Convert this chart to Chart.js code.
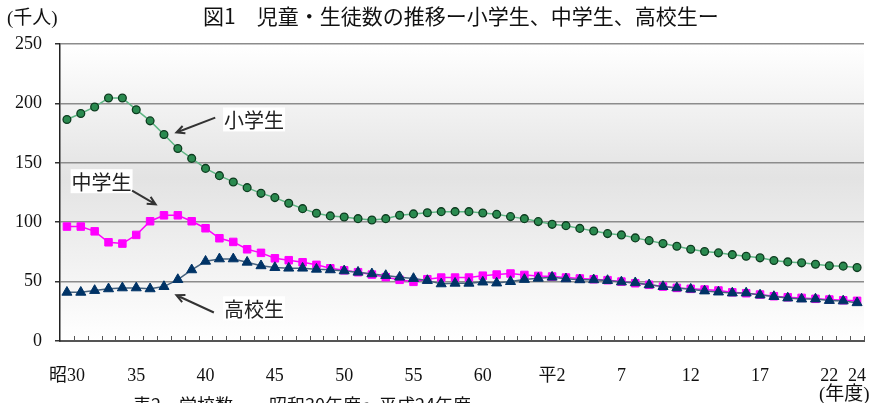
<!DOCTYPE html>
<html lang="ja">
<head>
<meta charset="utf-8">
<title>図1 児童・生徒数の推移</title>
<script src="https://cdn.jsdelivr.net/npm/chart.js@4.4.1/dist/chart.umd.min.js"></script>
<style>
  html, body { margin: 0; padding: 0; background: #fff; }
  #wrap { position: relative; width: 875px; height: 403px; overflow: hidden; }
  canvas { position: absolute; left: 0; top: 0; }
</style>
</head>
<body>
<div id="wrap"><canvas id="chart" width="875" height="403"></canvas></div>
<script>
// 年度 (昭和30年度〜平成24年度)
const years = [
  '昭30','昭31','昭32','昭33','昭34','昭35','昭36','昭37','昭38','昭39',
  '昭40','昭41','昭42','昭43','昭44','昭45','昭46','昭47','昭48','昭49',
  '昭50','昭51','昭52','昭53','昭54','昭55','昭56','昭57','昭58','昭59',
  '昭60','昭61','昭62','昭63','平1','平2','平3','平4','平5','平6',
  '平7','平8','平9','平10','平11','平12','平13','平14','平15','平16',
  '平17','平18','平19','平20','平21','平22','平23','平24'
];

// 目盛に出す年度と表示文字
const tickYears = ['昭30','昭35','昭40','昭45','昭50','昭55','昭60','平2','平7','平12','平17','平22','平24'];
const tickText  = ['昭30','35','40','45','50','55','60','平2','7','12','17','22','24'];
const yTicks = [0, 50, 100, 150, 200, 250];

// 千人
const elementary = [
  186.5, 191.5, 197.0, 204.5, 204.5, 194.7, 185.3, 173.8, 162.0, 153.7,
  145.3, 139.2, 133.9, 129.1, 124.3, 120.7, 115.9, 111.4, 107.5, 105.3,
  104.4, 103.0, 101.9, 103.0, 105.8, 107.0, 108.0, 108.9, 108.9, 108.9,
  107.8, 106.6, 104.7, 103.0, 100.5, 98.2, 97.1, 94.8, 92.6, 90.4,
  89.3, 86.8, 84.5, 82.0, 79.7, 77.2, 75.3, 74.2, 72.7, 71.3,
  70.0, 67.7, 66.6, 65.8, 64.6, 63.3, 63.0, 61.8
];
const juniorHigh = [
  96.3, 96.3, 92.3, 83.1, 82.0, 89.3, 100.8, 105.8, 105.8, 100.8,
  94.9, 86.5, 83.4, 77.2, 74.2, 69.6, 68.0, 66.3, 64.1, 61.2,
  59.5, 57.9, 55.9, 53.7, 51.5, 49.8, 52.0, 53.4, 53.4, 53.4,
  55.0, 55.9, 56.8, 55.6, 54.8, 54.3, 53.4, 52.6, 52.0, 51.2,
  50.0, 48.6, 47.3, 45.8, 44.7, 43.9, 43.3, 42.5, 41.0, 40.2,
  39.1, 37.7, 36.8, 36.3, 35.5, 34.9, 34.3, 33.8
];
const highSchool = [
  41.0, 41.0, 42.5, 43.9, 44.7, 44.7, 43.9, 45.8, 51.7, 59.9,
  67.1, 69.1, 69.1, 66.3, 63.3, 61.8, 61.3, 61.3, 60.4, 59.9,
  59.0, 57.9, 56.5, 55.1, 53.7, 52.6, 50.9, 48.1, 48.6, 48.6,
  49.6, 48.8, 50.0, 51.8, 52.8, 53.7, 52.3, 51.5, 51.5, 50.9,
  49.7, 49.0, 47.3, 45.8, 44.7, 43.6, 42.1, 41.2, 40.4, 40.4,
  38.7, 37.4, 36.2, 35.3, 35.3, 34.1, 33.7, 32.2
];

const jpSans = "'Noto Sans CJK JP', 'Noto Sans', sans-serif";
const numFont = "'Liberation Serif', 'Noto Sans CJK JP', serif";

// 吹き出し (位置はデータ座標: 年度の番号, 千人)
const notes = [
  { text: '小学生', at: [13.5, 186.5], from: [10.7, 188], to: [7.9, 175.5] },
  { text: '中学生', at: [2.5, 134.5], from: [4.7, 126.5], to: [6.4, 115] },
  { text: '高校生', at: [13.5, 27.5], from: [10.6, 24], to: [7.9, 38.5] }
];

const decor = {
  id: 'decor',
  beforeDraw(chart) {
    const { ctx, chartArea: a } = chart;
    const g = ctx.createLinearGradient(0, a.top, 0, a.bottom);
    g.addColorStop(0, '#ffffff');
    g.addColorStop(0.45, '#e3e3e3');
    g.addColorStop(1, '#ffffff');
    ctx.save();
    ctx.fillStyle = g;
    ctx.fillRect(a.left, a.top, a.right - a.left, a.bottom - a.top);
    ctx.restore();
  },
  afterDatasetsDraw(chart) {
    const { ctx, scales: { x, y } } = chart;
    ctx.save();
    ctx.font = '20px ' + jpSans;
    ctx.textAlign = 'center';
    ctx.textBaseline = 'middle';
    notes.forEach(n => {
      const cx = x.getPixelForValue(n.at[0]), cy = y.getPixelForValue(n.at[1]);
      const w = ctx.measureText(n.text).width + 2;
      ctx.fillStyle = '#fff';
      ctx.fillRect(cx - w / 2, cy - 12, w, 24);
      ctx.fillStyle = '#222';
      ctx.fillText(n.text, cx, cy + 1);
      // 矢印
      const x1 = x.getPixelForValue(n.from[0]), y1 = y.getPixelForValue(n.from[1]);
      const x2 = x.getPixelForValue(n.to[0]), y2 = y.getPixelForValue(n.to[1]);
      const ang = Math.atan2(y2 - y1, x2 - x1);
      ctx.strokeStyle = '#333';
      ctx.lineWidth = 2;
      ctx.beginPath();
      ctx.moveTo(x1, y1);
      ctx.lineTo(x2, y2);
      ctx.moveTo(x2 - 9 * Math.cos(ang - 0.45), y2 - 9 * Math.sin(ang - 0.45));
      ctx.lineTo(x2, y2);
      ctx.lineTo(x2 - 9 * Math.cos(ang + 0.45), y2 - 9 * Math.sin(ang + 0.45));
      ctx.stroke();
    });
    ctx.restore();
  },
  afterDraw(chart) {
    const { ctx, chartArea: a, scales: { x } } = chart;
    ctx.save();
    // 横軸の内向き目盛
    ctx.strokeStyle = '#555';
    ctx.lineWidth = 1;
    ctx.beginPath();
    for (let i = 0; i < years.length; i++) {
      const px = Math.round((x.getPixelForValue(i) + x.getPixelForValue(i + 1)) / 2) + 0.5;
      ctx.moveTo(px, a.bottom);
      ctx.lineTo(px, a.bottom - 5);
    }
    ctx.stroke();

    ctx.fillStyle = '#111';
    ctx.textBaseline = 'middle';
    ctx.textAlign = 'left';
    ctx.font = '21px ' + jpSans;
    ctx.fillText('図1　児童・生徒数の推移ー小学生、中学生、高校生ー', 203, 16);
    ctx.font = '19px ' + numFont;
    ctx.fillText('(千人)', 7, 19);
    ctx.fillText('(年度)', 819, 395);
    ctx.font = '18px ' + jpSans;
    ctx.textBaseline = 'top';
    ctx.fillText('表2　学校数　　昭和30年度～平成24年度', 133, 396);
    ctx.restore();
  }
};

new Chart(document.getElementById('chart'), {
  type: 'line',
  data: {
    labels: years,
    datasets: [
      {
        label: '高校生',
        data: highSchool,
        borderColor: '#46627e',
        borderWidth: 1.5,
        pointStyle: 'triangle',
        pointRadius: 5.8,
        pointBackgroundColor: '#003366',
        pointBorderColor: '#003366',
        pointBorderWidth: 1
      },
      {
        label: '中学生',
        data: juniorHigh,
        borderColor: '#ff00ff',
        borderWidth: 1.5,
        pointStyle: 'rect',
        pointRadius: 5.3,
        pointBackgroundColor: '#ff00ff',
        pointBorderColor: '#ff00ff',
        pointBorderWidth: 1
      },
      {
        label: '小学生',
        data: elementary,
        borderColor: '#5fb684',
        borderWidth: 1.5,
        pointStyle: 'circle',
        pointRadius: 3.9,
        pointBackgroundColor: '#2a8a4f',
        pointBorderColor: '#0d3b1f',
        pointBorderWidth: 1.3
      }
    ]
  },
  options: {
    responsive: false,
    animation: false,
    layout: { padding: { top: 44, right: 11, left: 0, bottom: 0 } },
    plugins: {
      legend: { display: false },
      tooltip: { enabled: false },
      title: { display: false }
    },
    scales: {
      x: {
        type: 'category',
        offset: true,
        grid: { display: false },
        border: { display: true, color: '#555', width: 2 },
        ticks: {
          autoSkip: false,
          maxRotation: 0,
          padding: 16,
          color: '#111',
          font: { family: numFont, size: 18 },
          callback(v, i) {
            const k = tickYears.indexOf(years[i]);
            return k >= 0 ? tickText[k] : '';
          }
        },
        afterFit(scale) {
          scale.height = 62;
          scale.paddingLeft = 0;
          scale.paddingRight = 0;
        }
      },
      y: {
        min: 0,
        max: 250,
        afterBuildTicks(scale) { scale.ticks = yTicks.map(v => ({ value: v })); },
        ticks: {
          padding: 13,
          color: '#111',
          font: { family: numFont, size: 18 }
        },
        grid: { color: '#8c8c8c', lineWidth: 1.5, tickLength: 5, tickColor: '#333', tickWidth: 1.5 },
        border: { display: true, color: '#222', width: 1.5 },
        afterFit(scale) { scale.width = 60; }
      }
    }
  },
  plugins: [decor]
});
</script>
</body>
</html>
